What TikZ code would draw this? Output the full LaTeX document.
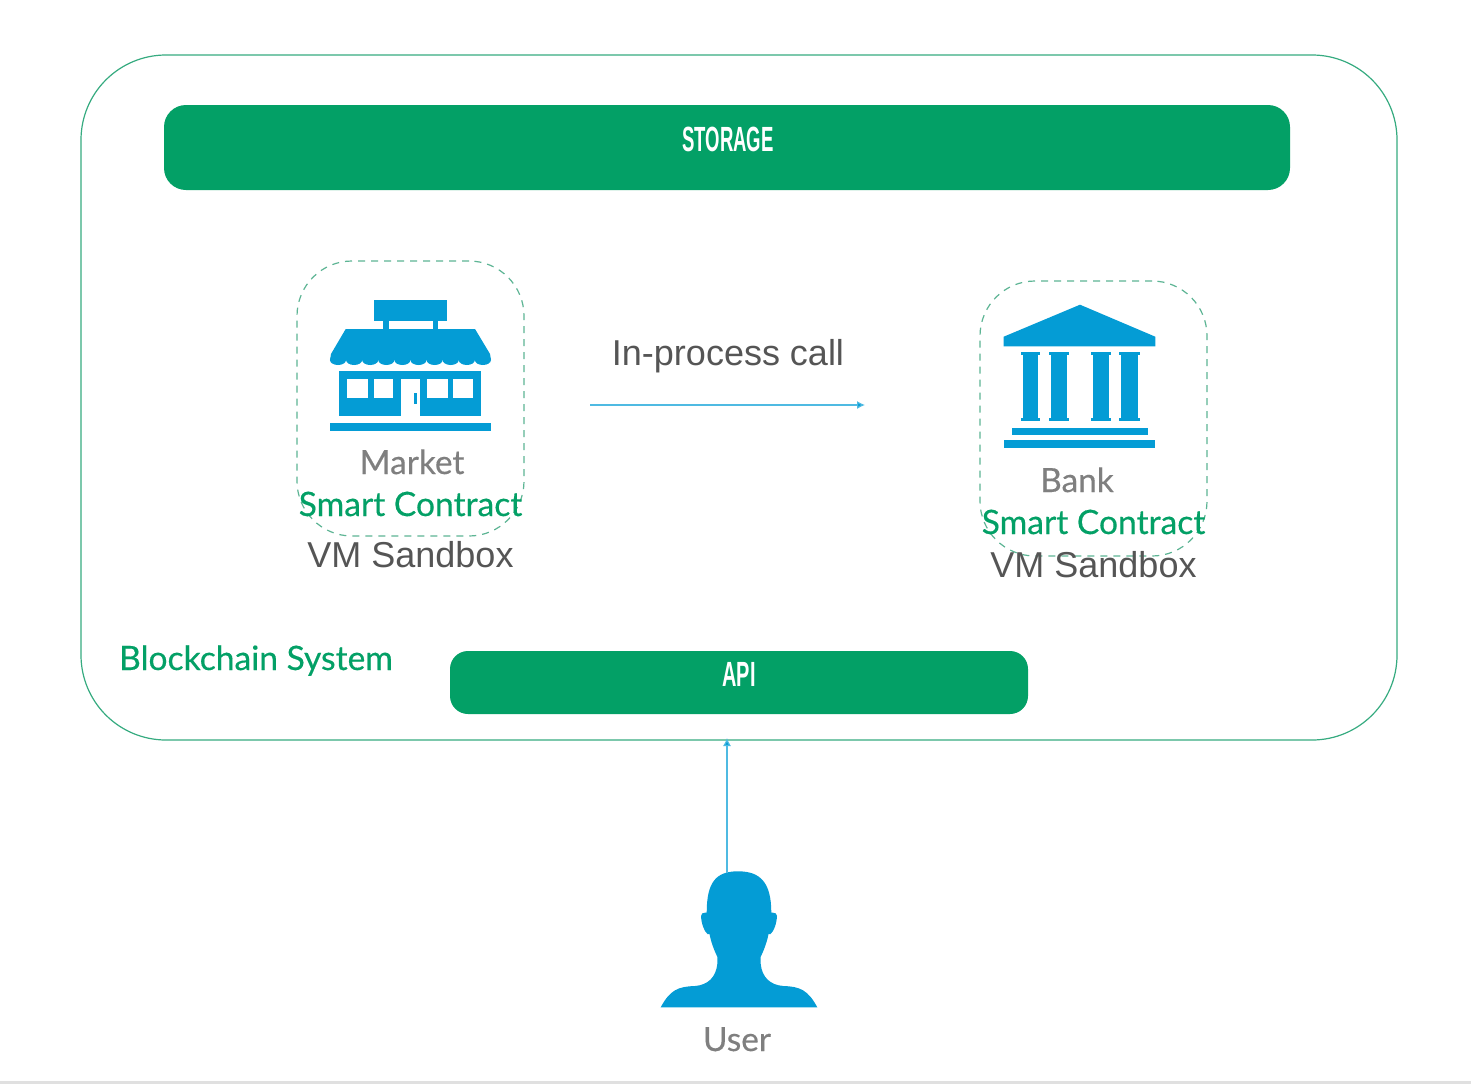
\documentclass[tikz,border=0pt]{standalone}
\usepackage{fontspec}
\setmainfont{Liberation Sans}
\newfontfamily\latofont[FakeBold=0.35]{Lato}
\definecolor{brandgreen}{HTML}{03A066}
\definecolor{linegreen}{HTML}{36AB80}
\definecolor{dashgreen}{HTML}{5DB594}
\definecolor{iconblue}{HTML}{049CD5}
\definecolor{labelgray}{HTML}{7F7F7F}
\definecolor{darktext}{HTML}{555555}
\usetikzlibrary{arrows.meta}
\tikzset{
  every node/.style={inner sep=0pt,outer sep=0pt},
  bar/.style={fill=brandgreen,rounded corners=#1},
  barlabel/.style={anchor=base,text=white,font=\bfseries\fontsize{35}{40}\selectfont},
  sandbox/.style={draw=dashgreen,line width=1.2pt,dash pattern=on 7pt off 6pt,rounded corners=55pt,minimum width=227pt,minimum height=275pt},
  iconlabel/.style={anchor=base,text=labelgray,font=\latofont\fontsize{33.4}{38}\selectfont},
  greenlabel/.style={anchor=base,text=brandgreen,font=\latofont\fontsize{33.6}{38}\selectfont},
  darklabel/.style={anchor=base,text=darktext,font=\fontsize{36}{42}\selectfont},
  flow/.style={draw=iconblue!70,line width=1.2pt,-{Latex[length=8pt,width=8pt,fill=iconblue]}},
  icon/.style={fill=iconblue,draw=none},
  hole/.style={fill=white,draw=none}
}
\begin{document}
\begin{tikzpicture}[x=1pt,y=-1pt]
\useasboundingbox (0,0) rectangle (1471,1084);
\fill[white] (0,0) rectangle (1471,1084);
\fill[black!12] (0,1081) rectangle (1471,1084);

% outer system box
\node[draw=linegreen,line width=1.2pt,rounded corners=85pt,minimum width=1316pt,minimum height=685pt] (system) at (739,397.5) {};
\node[bar=22pt,minimum width=1126pt,minimum height=85pt] (storage) at (727,147.5) {};
\node[barlabel] (storagetext) at (728,151) {\scalebox{.53}[1]{STORAGE}};
\node[bar=18pt,minimum width=578pt,minimum height=63pt] (api) at (739,682.5) {};
\node[barlabel] (apitext) at (739,686) {\scalebox{.57}[1]{API}};
\node[greenlabel] (blockchain) at (256,670) {Blockchain System};

% sandboxes
\node[sandbox] (marketbox) at (410.5,398.5) {};
\node[sandbox] (bankbox) at (1093.5,418.5) {};

% market icon
\fill[icon] (373.7,300) rectangle (447,321.3);
\fill[icon] (383,321) rectangle (389,330);
\fill[icon] (432.7,321) rectangle (438,330);
\fill[icon] (345.7,329) -- (475,329) -- (490,354) -- (491,360) -- (330,360) -- (331,354) -- cycle;
\foreach \i in {0,...,9}{\fill[icon] (338+16.1*\i,360) ellipse [x radius=8.05pt,y radius=5pt];}
\fill[icon] (339.3,371.3) rectangle (481.3,415.7);
\fill[hole] (347.3,379.3) rectangle (367.7,398.3);
\fill[hole] (374.3,379.3) rectangle (393.3,398.3);
\fill[hole] (427.3,379.3) rectangle (447.7,398.3);
\fill[hole] (453.3,379.3) rectangle (473.3,398.3);
\fill[hole] (400.7,379.3) rectangle (420.3,415.8);
\fill[icon] (414.3,393.3) rectangle (417,404.3);
\fill[icon] (330,423.3) rectangle (490.7,431.3);

\node[iconlabel] (markettext) at (412,474) {Market};
\node[greenlabel] (marketsc) at (410.5,516) {Smart Contract};
\node[darklabel] (marketvm) at (410.5,567) {VM Sandbox};

% bank icon
\fill[icon] (1080,304.7) -- (1155.3,336.7) -- (1155.3,346.3) -- (1003.7,346.3) -- (1003.7,336.7) -- cycle;
\foreach \a/\b in {1020.7/1040,1048.7/1069,1091/1110.7,1119/1139.7}{
  \fill[icon] (\a,351.7) rectangle (\b,354.7);
  \fill[icon] (\a+1.8,351.7) rectangle (\b-1.8,420.7);
  \fill[icon] (\a,417.7) rectangle (\b,420.7);
}
\fill[icon] (1012,427.7) rectangle (1148,434.7);
\fill[icon] (1003.7,440) rectangle (1155.3,448.3);

\node[iconlabel] (banktext) at (1077,492) {Bank};
\node[greenlabel] (banksc) at (1093.5,534) {Smart Contract};
\node[darklabel] (bankvm) at (1093.5,577) {VM Sandbox};

% call arrow
\node[darklabel] (calltext) at (728,365) {In-process call};
\coordinate (callstart) at (590,405);
\coordinate (callend) at (865,405);
\draw[flow] (callstart) -- (callend);

% user icon
\fill[icon] (706.7,912.7)
  .. controls (706.7,882) and (716,871.3) .. (738,871.3)
  .. controls (760,871.3) and (771.3,882) .. (771.3,912.7)
  -- (773,912.7) .. controls (775,912.7) and (777,913.5) .. (777,916)
  .. controls (776.5,924) and (774,931) .. (770.5,934)
  -- (768.5,934)
  .. controls (767,942) and (764,950) .. (760.7,956.7)
  -- (760.7,964)
  .. controls (762,977) and (770,985) .. (783.3,986)
  .. controls (800,986.5) and (808,990) .. (817.3,1007.3)
  -- (660.7,1007.3)
  .. controls (670,990) and (678,986.5) .. (695,986)
  .. controls (708,985) and (716,977) .. (717.3,964)
  -- (717.3,956.7)
  .. controls (714,950) and (711,942) .. (709.5,934)
  -- (707.5,934)
  .. controls (704,931) and (701.5,924) .. (701,916)
  .. controls (701,913.5) and (703,912.7) .. (705,912.7)
  -- cycle;
\node[iconlabel] (usertext) at (737,1051) {User};
\coordinate (userhead) at (727,873);
\coordinate (systemedge) at (727,738);
\draw[flow] (userhead) -- (systemedge);
\end{tikzpicture}
\end{document}
